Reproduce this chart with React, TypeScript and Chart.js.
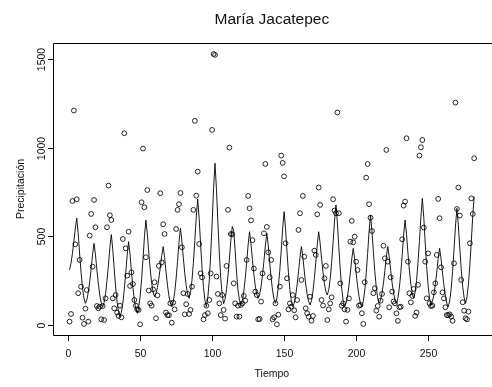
import React, { useEffect, useRef } from "react";
import { Chart, registerables } from "chart.js";

Chart.register(...registerables);

const titulo = "María Jacatepec";
const etiquetaX = "Tiempo";
const etiquetaY = "Precipitación";

const xTicks = [0, 50, 100, 150, 200, 250];
const yTicks = [0, 500, 1000, 1500];

// observed monthly precipitation (points), Tiempo = 1..282
const precipitacion = [
  19, 62, 699, 1209, 455, 709, 179, 367, 216, 41, 6, 92, 197, 19, 504, 626, 329, 705, 551, 107,
  94, 103, 32, 107, 28, 150, 551, 786, 619, 592, 150, 94, 169, 70, 51, 109, 43, 485, 1081, 432,
  278, 526, 220, 297,
  231, 141, 109, 88, 85, 4, 692, 995, 664, 382, 761, 194, 122, 109, 201, 241, 38, 167, 333, 743,
  353, 568, 513, 70, 56, 55, 122, 13, 126, 88, 541, 649, 681, 744, 438, 179, 60, 117, 175, 62,
  85, 216, 649, 1151, 729, 865, 457, 291, 269,
  32, 56, 109, 66,
  141, 291, 1100, 1528, 1523, 273, 175, 122, 56, 169, 85, 36, 333, 649, 1000, 513, 511, 235, 122, 47,
  109, 47, 113, 122, 164, 137, 367, 728, 658, 590, 478, 318, 188, 169, 32, 34, 132, 291, 517, 908,
  553, 410, 269, 367, 32, 43, 122, 4, 58, 216, 955, 914, 838,
  461, 263, 88, 122, 103, 169, 83, 43, 141, 536, 630, 254, 728, 385, 94, 66, 47, 160, 24, 51,
  419, 395, 624, 775, 677, 141, 110, 263, 333, 28, 88, 122, 156, 709, 645, 630, 1198, 630, 235, 109,
  122, 88, 19, 85, 150, 470, 587, 466, 498, 357,
  310, 109, 113, 66, 6, 241, 831, 908, 681, 605, 530, 179, 207, 81, 107, 47, 137, 175, 447, 376,
  987, 357, 100, 269, 188, 132, 122, 66, 23, 100, 103, 483, 673, 696, 1053, 357, 179, 128, 164, 203,
  51, 70, 226, 955, 1002, 1043, 549, 357, 150,
  404, 122, 107, 109, 184, 235, 395, 711, 602, 325, 184, 150, 100, 56, 55, 60, 48, 23, 348, 1254,
  654, 775, 617, 254, 128, 81, 38, 32, 75, 461, 714, 626, 940,
];

// fitted curve (line), Tiempo = 1..282
const ajuste = [
  311, 348, 404, 472, 546, 602, 516, 400, 295, 208, 151, 122,
  142, 183, 244, 318, 399, 460, 396, 310, 232, 167, 124, 103,
  127, 176, 250, 339, 437, 510, 427, 316, 214, 130, 75, 47,
  72, 123, 199, 292, 394, 470, 397, 300, 211, 139, 90, 66,
  98, 161, 255, 371, 497, 592, 514, 411, 316, 238, 186, 160,
  177, 211, 262, 324, 391, 442, 381, 300, 225, 164, 123, 103,
  130, 183, 262, 359, 465, 545, 474, 379, 292, 221, 174, 150,
  184, 251, 352, 475, 609, 710, 601, 455, 322, 212, 139, 103,
  152, 249, 394, 572, 766, 912, 769, 579, 405, 263, 168, 120,
  146, 198, 277, 372, 477, 555, 530, 420, 290, 193, 140, 113,
  138, 187, 262, 353, 452, 526, 458, 368, 285, 218, 173, 150,
  172, 216, 282, 363, 451, 517, 446, 351, 264, 193, 146, 122,
  153, 215, 308, 422, 546, 639, 543, 414, 296, 199, 135, 103,
  123, 164, 225, 300, 381, 442, 383, 304, 231, 172, 133, 113,
  138, 187, 262, 353, 452, 526, 462, 376, 298, 233, 190, 169,
  199, 260, 352, 464, 586, 677, 574, 436, 310, 206, 137, 103,
  123, 162, 221, 294, 373, 432, 373, 294, 221, 162, 123, 103,
  134, 196, 289, 403, 527, 620, 530, 411, 301, 212, 152, 122,
  141, 180, 237, 308, 384, 442, 384, 308, 237, 180, 141, 122,
  150, 207, 291, 395, 507, 592, 512, 406, 309, 230, 177, 150,
  184, 252, 353, 477, 612, 714, 606, 462, 329, 221, 149, 113,
  132, 170, 228, 298, 375, 432, 373, 294, 221, 162, 123, 103,
  136, 203, 303, 425, 558, 658, 562, 433, 315, 218, 154, 122,
  158, 230, 339, 471, 616, 724,
];

const FONT = "'Liberation Sans', Arial, Helvetica, sans-serif";

const rAxesPlugin = {
  id: "rAxes",
  afterDraw(chart: any) {
    const { ctx, chartArea } = chart;
    const xs = chart.scales.x;
    const ys = chart.scales.y;
    const L = Math.round(chartArea.left) + 0.5;
    const T = Math.round(chartArea.top) + 0.5;
    const B = Math.round(chartArea.bottom) + 0.5;
    const R = chart.width + 2;
    ctx.save();
    ctx.strokeStyle = "#000";
    ctx.lineWidth = 1;
    ctx.beginPath();
    ctx.moveTo(R, T);
    ctx.lineTo(L, T);
    ctx.lineTo(L, B);
    ctx.lineTo(R, B);
    ctx.stroke();

    ctx.fillStyle = "#111";
    ctx.font = `10.5px ${FONT}`;
    ctx.textAlign = "center";
    ctx.textBaseline = "alphabetic";
    for (const v of xTicks) {
      const px = Math.round(xs.getPixelForValue(v)) + 0.5;
      ctx.beginPath();
      ctx.moveTo(px, B);
      ctx.lineTo(px, B + 5.5);
      ctx.stroke();
      ctx.fillText(String(v), px, 357);
    }
    for (const v of yTicks) {
      const py = Math.round(ys.getPixelForValue(v)) + 0.5;
      ctx.beginPath();
      ctx.moveTo(L, py);
      ctx.lineTo(L - 5.5, py);
      ctx.stroke();
      ctx.save();
      ctx.translate(45, py);
      ctx.rotate(-Math.PI / 2);
      ctx.fillText(String(v), 0, 0);
      ctx.restore();
    }
    const cx = xs.getPixelForValue(141.5);
    ctx.fillText(etiquetaX, cx, 377);
    ctx.save();
    ctx.translate(24, (chartArea.top + chartArea.bottom) / 2);
    ctx.rotate(-Math.PI / 2);
    ctx.fillText(etiquetaY, 0, 0);
    ctx.restore();
    ctx.font = `15.5px ${FONT}`;
    ctx.fillText(titulo, cx, 24);
    ctx.restore();
  },
};

export default function App() {
  const ref = useRef<HTMLCanvasElement | null>(null);
  useEffect(() => {
    if (!ref.current) return;
    const puntos = precipitacion.map((v, i) => ({ x: i + 1, y: v }));
    const linea = ajuste.map((v, i) => ({ x: i + 1, y: v }));
    const chart = new Chart(ref.current, {
      type: "scatter",
      data: {
        datasets: [
          {
            label: "ajuste",
            data: linea,
            showLine: true,
            pointRadius: 0,
            borderColor: "#000",
            borderWidth: 0.9,
            tension: 0,
            fill: false,
          } as any,
          {
            label: "precipitacion",
            data: puntos,
            showLine: false,
            pointRadius: 2.4,
            pointStyle: "circle",
            borderColor: "#000",
            backgroundColor: "rgba(0,0,0,0)",
            borderWidth: 0.85,
          } as any,
        ],
      },
      options: {
        responsive: false,
        animation: false,
        devicePixelRatio: 1,
        layout: { padding: { left: 53, top: 43, right: 0, bottom: 52 } },
        plugins: {
          legend: { display: false },
          title: { display: false },
          tooltip: { enabled: false },
        },
        events: [],
        scales: {
          x: { type: "linear", display: false, min: -10.5, max: 291 },
          y: { type: "linear", display: false, min: -56.5, max: 1590 },
        },
      } as any,
      plugins: [rAxesPlugin],
    });
    return () => chart.destroy();
  }, []);
  return (
    <div style={{ position: "fixed", left: 0, top: 0, width: 492, height: 387, background: "#fff" }}>
      <canvas ref={ref} width={492} height={387} style={{ display: "block" }} />
    </div>
  );
}
